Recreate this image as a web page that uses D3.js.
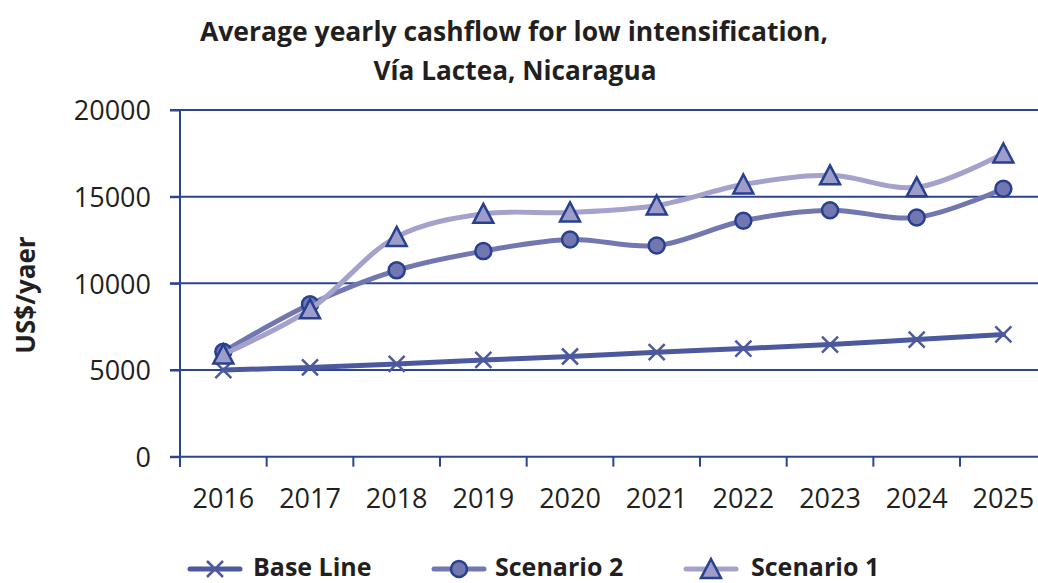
<!DOCTYPE html>
<html>
<head>
<meta charset="utf-8">
<script src="https://cdn.jsdelivr.net/npm/d3@7"></script>
<style>
  html, body { margin: 0; padding: 0; background: #fff; }
  svg { display: block; font-family: "Open Sans", "Noto Sans", sans-serif; }
</style>
</head>
<body>
<div id="chart"></div>
<script>
const years = ["2016", "2017", "2018", "2019", "2020", "2021", "2022", "2023", "2024", "2025"];
const baseLine = [5000, 5150, 5350, 5580, 5780, 6030, 6240, 6470, 6760, 7050];
const scenario2 = [6050, 8790, 10750, 11860, 12530, 12180, 13610, 14220, 13800, 15460];
const scenario1 = [5900, 8500, 12680, 14010, 14090, 14490, 15700, 16230, 15540, 17490];
const yTicks = [0, 5000, 10000, 15000, 20000];

const axisColor = "#2b4594";
const markStroke = "#27408f";
const textColor = "#231f20";

const series = [
  { name: "Base Line", values: baseLine, color: "#4c599e", marker: "x" },
  { name: "Scenario 2", values: scenario2, color: "#7377b1", marker: "circle" },
  { name: "Scenario 1", values: scenario1, color: "#a4a2cc", marker: "triangle" }
];

const W = 1038, H = 583;
const svg = d3.select("#chart").append("svg")
  .attr("width", W).attr("height", H);

const x = d3.scaleBand().domain(years).range([180, 1046.7]).padding(0);
const y = d3.scaleLinear().domain([0, 20000]).range([456.7, 110]);
const cx = d => x(d) + x.bandwidth() / 2;

// title
const title = svg.append("g").attr("fill", textColor)
  .style("font-weight", "bold").style("font-size", "26px");
title.append("text").attr("x", 514).attr("y", 41).attr("text-anchor", "middle")
  .attr("textLength", 628).attr("lengthAdjust", "spacingAndGlyphs")
  .text("Average yearly cashflow for low intensification,");
title.append("text").attr("x", 515).attr("y", 80).attr("text-anchor", "middle")
  .attr("textLength", 283).attr("lengthAdjust", "spacingAndGlyphs")
  .text("Vía Lactea, Nicaragua");

// gridlines
svg.append("g").selectAll("line").data(yTicks).enter().append("line")
  .attr("x1", 170).attr("x2", W + 10)
  .attr("y1", d => y(d)).attr("y2", d => y(d))
  .attr("stroke", axisColor).attr("stroke-width", 2);

// y axis
const yAxis = svg.append("g").attr("transform", "translate(180,0)")
  .call(d3.axisLeft(y).tickValues(yTicks).tickSize(10).tickPadding(19).tickFormat(d3.format("d")));
yAxis.select(".domain").remove();
yAxis.selectAll(".tick line").attr("stroke", axisColor).attr("stroke-width", 2);
yAxis.selectAll(".tick text").attr("fill", textColor)
  .style("font-size", "27px").style("font-family", "'Open Sans', sans-serif")
  .attr("dy", "0.36em");
svg.append("line").attr("x1", 180).attr("x2", 180).attr("y1", 110).attr("y2", 467)
  .attr("stroke", axisColor).attr("stroke-width", 2);

// x axis
const xAxis = svg.append("g").attr("transform", `translate(0,${y(0)})`)
  .call(d3.axisBottom(x).tickSize(0).tickPadding(32));
xAxis.select(".domain").remove();
xAxis.selectAll(".tick text").attr("fill", textColor)
  .style("font-size", "27px").style("font-family", "'Open Sans', sans-serif");
svg.append("g").selectAll("line").data(years).enter().append("line")
  .attr("x1", d => x(d)).attr("x2", d => x(d))
  .attr("y1", y(0)).attr("y2", y(0) + 10)
  .attr("stroke", axisColor).attr("stroke-width", 2);

// y title
svg.append("text")
  .attr("transform", "translate(35,295) rotate(-90)")
  .attr("text-anchor", "middle").attr("fill", textColor)
  .style("font-weight", "bold").style("font-size", "26px")
  .text("US$/yaer");

function drawMarker(g, type, px, py, fill) {
  if (type === "x") {
    g.append("path")
      .attr("d", `M${px - 8},${py - 8}L${px + 8},${py + 8}M${px - 8},${py + 8}L${px + 8},${py - 8}`)
      .attr("stroke", fill).attr("stroke-width", 2.5).attr("fill", "none");
  } else if (type === "circle") {
    g.append("circle").attr("cx", px).attr("cy", py).attr("r", 8)
      .attr("fill", fill).attr("stroke", markStroke).attr("stroke-width", 2.5);
  } else {
    g.append("path")
      .attr("d", `M${px},${py - 10}L${px + 10},${py + 9}L${px - 10},${py + 9}Z`)
      .attr("fill", fill).attr("stroke", markStroke).attr("stroke-width", 2.5)
      .attr("stroke-linejoin", "miter");
  }
}

const line = d3.line()
  .x((d, i) => cx(years[i]))
  .y(d => y(d))
  .curve(d3.curveCatmullRom.alpha(0.5));

series.forEach(s => {
  const g = svg.append("g");
  g.append("path").datum(s.values)
    .attr("d", line)
    .attr("fill", "none").attr("stroke", s.color)
    .attr("stroke-width", 5).attr("stroke-linecap", "round");
  const mfill = s.marker === "triangle" ? "#9d9cca" : s.color;
  s.values.forEach((v, i) => drawMarker(g, s.marker, cx(years[i]), y(v), mfill));
});

// legend
const legendX = [[190, 240, 253], [434, 484, 495], [686, 736, 751]];
series.forEach((s, i) => {
  const [x1, x2, tx] = legendX[i];
  const g = svg.append("g");
  const ly = 569;
  g.append("line").attr("x1", x1).attr("x2", x2).attr("y1", ly).attr("y2", ly)
    .attr("stroke", s.color).attr("stroke-width", 5).attr("stroke-linecap", "round");
  const mfill = s.marker === "triangle" ? "#9d9cca" : s.color;
  drawMarker(g, s.marker, (x1 + x2) / 2, ly, mfill);
  g.append("text").attr("x", tx).attr("y", 576)
    .attr("fill", textColor).style("font-weight", "bold").style("font-size", "25px")
    .text(s.name);
});
</script>
</body>
</html>
